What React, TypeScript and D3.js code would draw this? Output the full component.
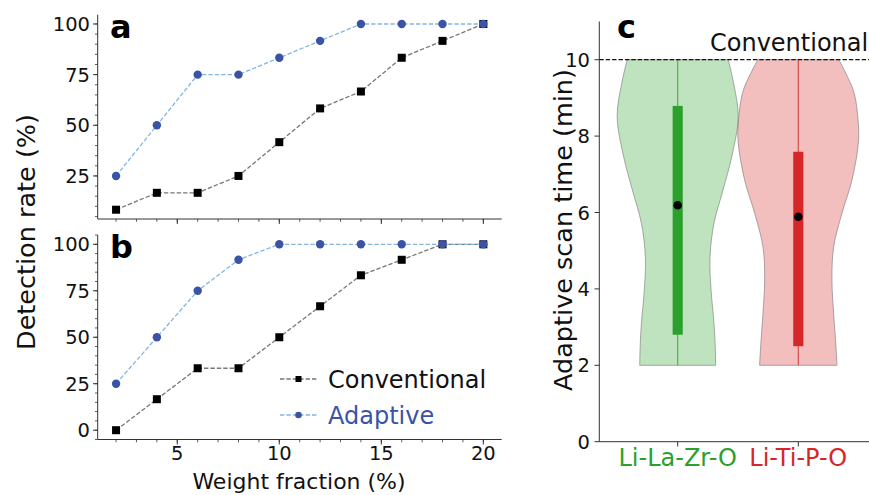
import * as d3 from "d3";

// Weight fraction (%) on the x axis of panels a and b
const weightFraction = [2, 4, 6, 8, 10, 12, 14, 16, 18, 20];

// Detection rate (%) — panel a
const conventionalA = [8.33, 16.67, 16.67, 25, 41.67, 58.33, 66.67, 83.33, 91.67, 100];
const adaptiveA = [25, 50, 75, 75, 83.33, 91.67, 100, 100, 100, 100];

// Detection rate (%) — panel b
const conventionalB = [0, 16.67, 33.33, 33.33, 50, 66.67, 83.33, 91.67, 100, 100];
const adaptiveB = [25, 50, 75, 91.67, 100, 100, 100, 100, 100, 100];

const rateTicks = [25, 50, 75, 100];
const rateTicksB = [0, 25, 50, 75, 100];
const fractionTicks = [5, 10, 15, 20];

// Panel c: adaptive scan time (min) violins
const materials = ["Li-La-Zr-O", "Li-Ti-P-O"];
const materialColors = ["#2ca02c", "#d62728"];
// violin outline: time (min) -> half width (category units)
const violinTimes = [
  [2, 2.5, 3.1, 4, 4.84, 5.72, 6.59, 7.46, 8.51, 9.38, 10],
  [2, 2.6, 3.36, 4.23, 5.1, 5.98, 6.85, 7.9, 8.6, 9.2, 10],
];
const violinHalfWidths = [
  [0.315, 0.311, 0.301, 0.276, 0.268, 0.301, 0.376, 0.448, 0.502, 0.464, 0.419],
  [0.321, 0.31, 0.293, 0.279, 0.293, 0.362, 0.445, 0.5, 0.49, 0.456, 0.336],
];
const scanMin = [2, 2];
const scanMax = [10, 10];
const scanQ1 = [2.8, 2.5];
const scanQ3 = [8.79, 7.59];
const scanMid = [6.19, 5.89];
const conventionalTime = 10;
const timeTicks = [0, 2, 4, 6, 8, 10];

const FONT = "DejaVu Sans";
const BLUE = "#3a53a5";
const LIGHT_BLUE = "#84b6e2";
const GREY = "#777777";

const xFrac = d3.scaleLinear().domain([1.1, 20.9]).range([97.7, 501.7]);
const minorX = d3.range(2, 21, 1);

function SeriesPanel({ conv, adapt, yScale, ticks, letter, showLabels }: any) {
  const [y0, y1] = yScale.range();
  const minorY = d3.range(-5, 106, 5).filter((v) => v >= yScale.domain()[0] && v <= yScale.domain()[1]);
  const line = d3
    .line<number>()
    .x((_, i) => xFrac(weightFraction[i]))
    .y((d) => yScale(d));
  return (
    <g>
      {/* spines */}
      <line x1={97.7} x2={97.7} y1={y0} y2={y1} stroke="#333" />
      <line x1={97.7} x2={501.7} y1={y0} y2={y0} stroke="#333" />
      {minorY.map((v) => (
        <line key={"my" + v} x1={97.7} x2={95} y1={yScale(v)} y2={yScale(v)} stroke="#333" strokeWidth={0.8} />
      ))}
      {ticks.map((v: number) => (
        <g key={"y" + v}>
          <line x1={97.7} x2={93} y1={yScale(v)} y2={yScale(v)} stroke="#333" />
          <text x={90} y={yScale(v)} dy="0.36em" textAnchor="end" fontSize={19.5} fontFamily={FONT} fill="#111">
            {v}
          </text>
        </g>
      ))}
      {minorX.map((v) => (
        <line key={"mx" + v} x1={xFrac(v)} x2={xFrac(v)} y1={y0} y2={y0 + 2.8} stroke="#333" strokeWidth={0.8} />
      ))}
      {fractionTicks.map((v) => (
        <g key={"x" + v}>
          <line x1={xFrac(v)} x2={xFrac(v)} y1={y0} y2={y0 + 5} stroke="#333" />
          {showLabels && (
            <text x={xFrac(v)} y={y0 + 20.5} textAnchor="middle" fontSize={19.5} fontFamily={FONT} fill="#111">
              {v}
            </text>
          )}
        </g>
      ))}
      <path d={line(conv) || ""} fill="none" stroke={GREY} strokeWidth={1.3} strokeDasharray="4.4,2" />
      {conv.map((v: number, i: number) => (
        <rect key={"c" + i} x={xFrac(weightFraction[i]) - 4} y={yScale(v) - 4} width={8} height={8} fill="#000" />
      ))}
      <path d={line(adapt) || ""} fill="none" stroke={LIGHT_BLUE} strokeWidth={1.3} strokeDasharray="4.4,2" />
      {adapt.map((v: number, i: number) => (
        <circle key={"a" + i} cx={xFrac(weightFraction[i])} cy={yScale(v)} r={4.2} fill={BLUE} />
      ))}
      <text x={110} y={y1 + 23} fontSize={32} fontWeight="bold" fontFamily={FONT}>
        {letter}
      </text>
    </g>
  );
}

function ViolinPanel() {
  const x = d3.scaleLinear().domain([0.35, 2.65]).range([599.3, 876.7]);
  const y = d3.scaleLinear().domain([0, 11]).range([441.7, 21.5]);
  const boxHalf = 0.042;
  return (
    <g>
      {materials.map((m, k) => {
        const c = k + 1;
        const pts = violinTimes[k].map((t, i) => ({ t, w: violinHalfWidths[k][i] }));
        const area = d3
          .area<{ t: number; w: number }>()
          .y((d) => y(d.t))
          .x0((d) => x(c - d.w))
          .x1((d) => x(c + d.w))
          .curve(d3.curveCatmullRom);
        return (
          <g key={m}>
            <path d={area(pts) || ""} fill={materialColors[k]} fillOpacity={0.3} stroke="#777" strokeOpacity={0.6} strokeWidth={1} />
            <line x1={x(c)} x2={x(c)} y1={y(scanMin[k])} y2={y(scanMax[k])} stroke={materialColors[k]} strokeOpacity={0.75} strokeWidth={1.2} />
            <rect
              x={x(c - boxHalf)}
              width={x(c + boxHalf) - x(c - boxHalf)}
              y={y(scanQ3[k])}
              height={y(scanQ1[k]) - y(scanQ3[k])}
              fill={materialColors[k]}
            />
            <circle cx={x(c)} cy={y(scanMid[k])} r={4.3} fill="#000" />
          </g>
        );
      })}
      <line x1={599.3} x2={869} y1={y(conventionalTime)} y2={y(conventionalTime)} stroke="#111" strokeWidth={1.2} strokeDasharray="4.4,2" />
      <text x={710} y={51} fontSize={24} fontFamily={FONT} fill="#111">
        Conventional
      </text>
      <line x1={599.3} x2={599.3} y1={441.7} y2={21.5} stroke="#333" />
      <line x1={599.3} x2={869} y1={441.7} y2={441.7} stroke="#333" />
      {timeTicks.map((v) => (
        <g key={v}>
          <line x1={599.3} x2={594.5} y1={y(v)} y2={y(v)} stroke="#333" />
          <text x={590} y={y(v)} dy="0.36em" textAnchor="end" fontSize={19.5} fontFamily={FONT} fill="#111">
            {v}
          </text>
        </g>
      ))}
      {materials.map((m, k) => (
        <g key={"l" + m}>
          <line x1={x(k + 1)} x2={x(k + 1)} y1={441.7} y2={446.5} stroke="#333" />
          <text x={x(k + 1)} y={466} textAnchor="middle" fontSize={24} fontFamily={FONT} fill={materialColors[k]}>
            {m}
          </text>
        </g>
      ))}
      <text
        transform={`translate(572,230) rotate(-90)`}
        textAnchor="middle"
        fontSize={25.5}
        fontFamily={FONT}
        fill="#111"
      >
        Adaptive scan time (min)
      </text>
      <text x={617} y={37.7} fontSize={32} fontWeight="bold" fontFamily={FONT}>
        c
      </text>
    </g>
  );
}

export default function App() {
  const yA = d3.scaleLinear().domain([3.75, 104.58]).range([219, 14.7]);
  const yB = d3.scaleLinear().domain([-5, 105]).range([439.5, 235]);
  return (
    <svg
      width={869}
      height={495}
      style={{ position: "absolute", left: 0, top: 0, background: "#fff" }}
    >
      <rect width={869} height={495} fill="#fff" />
      <SeriesPanel conv={conventionalA} adapt={adaptiveA} yScale={yA} ticks={rateTicks} letter="a" showLabels={false} />
      <SeriesPanel conv={conventionalB} adapt={adaptiveB} yScale={yB} ticks={rateTicksB} letter="b" showLabels={true} />

      {/* legend */}
      <line x1={280} x2={317} y1={379} y2={379} stroke={GREY} strokeWidth={1.3} strokeDasharray="4.4,2" />
      <rect x={295.5} y={376} width={6} height={6} fill="#000" />
      <text x={328} y={387.6} fontSize={24} fontFamily={FONT} fill="#111">
        Conventional
      </text>
      <line x1={280} x2={317} y1={415} y2={415} stroke={LIGHT_BLUE} strokeWidth={1.3} strokeDasharray="4.4,2" />
      <circle cx={298.5} cy={415} r={3.3} fill={BLUE} />
      <text x={328} y={423.6} fontSize={24} fontFamily={FONT} fill={BLUE}>
        Adaptive
      </text>

      <text transform="translate(35,232) rotate(-90)" textAnchor="middle" fontSize={25.5} fontFamily={FONT} fill="#111">
        Detection rate (%)
      </text>
      <text x={299} y={489} textAnchor="middle" fontSize={22} fontFamily={FONT} fill="#111">
        Weight fraction (%)
      </text>
      <ViolinPanel />
    </svg>
  );
}
